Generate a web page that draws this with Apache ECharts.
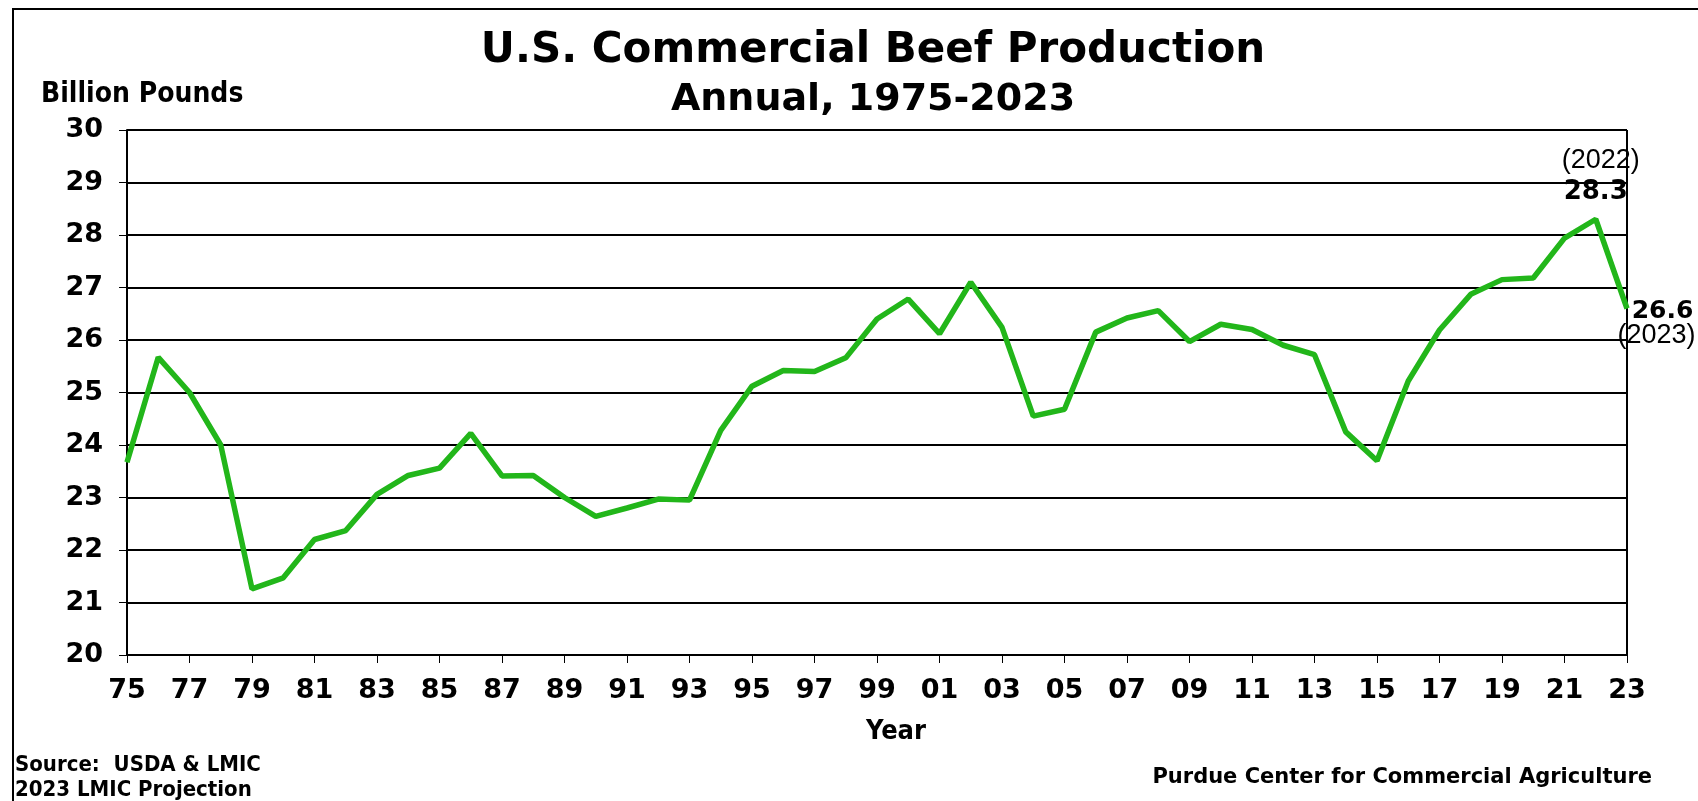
<!DOCTYPE html>
<html>
<head>
<meta charset="utf-8">
<title>U.S. Commercial Beef Production</title>
<script src="https://cdn.jsdelivr.net/npm/echarts@6/dist/echarts.min.js"></script>
<style>
    html, body { margin: 0; padding: 0; background: #fff; }
    #chart { width: 1698px; height: 801px; }
</style>
</head>
<body>
<div id="chart"></div>
<script>
// years 1975-2023
var years = [];
for (var y = 1975; y <= 2023; y++) {
    years.push(String(y));
}

// billion pounds
var production = [
    23.67, 25.67, 25.00, 24.00, 21.26, 21.47, 22.20, 22.37, 23.06, 23.42,
    23.56, 24.22, 23.41, 23.42, 23.00, 22.64, 22.80, 22.97, 22.95, 24.28,
    25.12, 25.42, 25.40, 25.66, 26.40, 26.78, 26.12, 27.10, 26.24, 24.55,
    24.68, 26.15, 26.42, 26.56, 25.97, 26.30, 26.20, 25.90, 25.72, 24.25,
    23.70, 25.22, 26.19, 26.87, 27.15, 27.18, 27.94, 28.30, 26.60
];

var yTicks = [20, 21, 22, 23, 24, 25, 26, 27, 28, 29, 30];

var boldFont = '"DejaVu Sans", Verdana, sans-serif';
var narrowFont = '"DejaVu Sans Condensed", Tahoma, sans-serif';
var plainFont = '"Liberation Sans", Arial, sans-serif';

var myChart = echarts.init(document.getElementById('chart'));

// data with the two end annotations
var lineData = [];
for (var i = 0; i < production.length; i++) {
    lineData.push({ value: production[i] });
}
lineData[years.indexOf('2022')].label = {
    show: true,
    position: 'top',
    distance: 12,
    formatter: '{a|(2022)}\n{b|28.3}',
    rich: {
        a: { fontFamily: plainFont, fontSize: 27, color: '#000', lineHeight: 32, align: 'center', padding: [0, 0, 0, 10] },
        b: { fontFamily: boldFont, fontWeight: 'bold', fontSize: 26, color: '#000', lineHeight: 30, align: 'center' }
    }
};
lineData[years.indexOf('2023')].label = {
    show: true,
    position: 'right',
    distance: 0,
    offset: [-10, 15],
    formatter: '{b|26.6}\n{a|(2023)}',
    rich: {
        a: { fontFamily: plainFont, fontSize: 27, color: '#000', lineHeight: 24, align: 'center' },
        b: { fontFamily: boldFont, fontWeight: 'bold', fontSize: 25, color: '#000', lineHeight: 24, align: 'center', padding: [0, 0, 0, 12] }
    }
};

function textEl(str, x, y, font, align) {
    return {
        type: 'text',
        x: x,
        y: y,
        style: {
            text: str,
            font: font,
            fill: '#000',
            textAlign: align || 'left',
            textVerticalAlign: 'middle'
        }
    };
}

var option = {
    animation: false,
    backgroundColor: '#fff',
    graphic: [{
        // outer frame (only top and left edges show)
        type: 'polyline',
        shape: { points: [[13, 820], [13, 9], [1710, 9]] },
        style: { stroke: '#000', lineWidth: 2, fill: null }
    },
        textEl('U.S. Commercial Beef Production', 873, 51, 'bold 42px ' + boldFont, 'center'),
        textEl('Annual, 1975-2023', 873, 100, 'bold 38px ' + boldFont, 'center'),
        textEl('Billion Pounds', 41, 95, 'bold 28px ' + narrowFont),
        textEl('Year', 896, 732, 'bold 27px ' + narrowFont, 'center'),
        textEl('Source:  USDA & LMIC', 15, 765, 'bold 22px ' + narrowFont),
        textEl('2023 LMIC Projection', 15, 790, 'bold 22px ' + narrowFont),
        textEl('Purdue Center for Commercial Agriculture', 1652, 778, 'bold 21px ' + boldFont, 'right')
    ],
    grid: {
        left: 127,
        right: 71,
        top: 130,
        bottom: 146,
        show: false
    },
    xAxis: {
        type: 'category',
        data: years,
        boundaryGap: false,
        axisLine: { show: true, lineStyle: { color: '#000', width: 2 } },
        axisTick: {
            show: true,
            interval: 1,
            length: 8,
            lineStyle: { color: '#000', width: 1 }
        },
        axisLabel: {
            interval: 1,
            margin: 22,
            color: '#000',
            fontFamily: boldFont,
            fontWeight: 'bold',
            fontSize: 27,
            formatter: function (v) { return v.slice(2); }
        },
        splitLine: { show: false }
    },
    yAxis: {
        type: 'value',
        min: yTicks[0],
        max: yTicks[yTicks.length - 1],
        interval: 1,
        axisLine: { show: true, lineStyle: { color: '#000', width: 2 } },
        axisTick: { show: true, length: 8, lineStyle: { color: '#000', width: 1 } },
        axisLabel: {
            margin: 24,
            color: '#000',
            fontFamily: boldFont,
            fontWeight: 'bold',
            fontSize: 27
        },
        splitLine: { show: true, lineStyle: { color: '#000', width: 2 } }
    },
    series: [{
        name: 'Production',
        type: 'line',
        data: lineData,
        symbol: 'circle',
        symbolSize: 1,
        showSymbol: true,
        lineStyle: { color: '#22b61a', width: 5.5 },
        itemStyle: { color: '#22b61a' },
        z: 5
    }, {
        // right edge of the plot
        type: 'line',
        data: [],
        markLine: {
            silent: true,
            symbol: 'none',
            label: { show: false },
            lineStyle: { color: '#000', width: 2, type: 'solid' },
            data: [{ xAxis: '2023' }]
        }
    }]
};

myChart.setOption(option);
</script>
</body>
</html>
